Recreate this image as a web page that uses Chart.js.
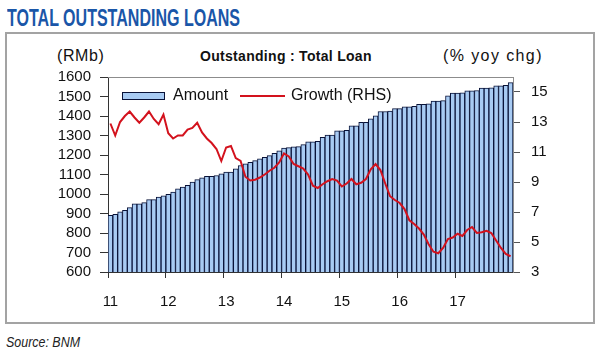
<!DOCTYPE html>
<html>
<head>
<meta charset="utf-8">
<script src="https://cdn.jsdelivr.net/npm/chart.js@4/dist/chart.umd.min.js"></script>
<style>
  html, body { margin: 0; padding: 0; background: #fff; }
  body { width: 600px; height: 360px; position: relative; overflow: hidden; font-family: "Liberation Sans", Arial, sans-serif; }
  #frame { position: absolute; left: 5px; top: 32px; width: 590px; height: 292px; box-sizing: border-box; border: 2px solid #a3a3a3; }
  #title { position: absolute; left: 7px; top: 5px; font-family: "Liberation Sans Narrow", "Liberation Sans", Arial, sans-serif; font-weight: bold; font-size: 23px; color: #1a56a8; white-space: nowrap; transform-origin: 0 0; line-height: 26px; }
  #source { position: absolute; left: 6px; top: 333px; font-family: "Liberation Sans Narrow", "Liberation Sans", Arial, sans-serif; font-style: italic; font-size: 15px; color: #222; white-space: nowrap; transform-origin: 0 0; }
  .lbl { position: absolute; white-space: nowrap; color: #111; line-height: 18px; }
  #wrap { position: absolute; left: 0; top: 0; width: 600px; height: 360px; }
</style>
</head>
<body>
<div id="frame"></div>
<div id="title">TOTAL OUTSTANDING LOANS</div>
<div class="lbl" id="rmb" style="left:57px; top:47px; font-size:16px; letter-spacing:0.6px;">(RMb)</div>
<div class="lbl" id="ctitle" style="left:200px; top:47px; font-size:14px; font-weight:bold; letter-spacing:0.3px;">Outstanding : Total Loan</div>
<div class="lbl" id="yoy" style="left:443px; top:47px; font-size:16px; letter-spacing:1.4px;">(% yoy chg)</div>
<div id="source">Source: BNM</div>
<div id="wrap"><canvas id="c" width="600" height="360"></canvas></div>
<script>
// ---- data ----
const years = ['11', '12', '13', '14', '15', '16', '17'];
const monthsPerYear = ['Jan','Feb','Mar','Apr','May','Jun','Jul','Aug','Sep','Oct','Nov','Dec'];

const amount = [
  891, 896, 908, 916, 930, 950, 950, 956, 971, 971, 984, 990,
  998, 1010, 1027, 1035, 1044, 1061, 1074, 1083, 1090, 1090, 1095, 1104,
  1112, 1112, 1129, 1146, 1155, 1163, 1171, 1180, 1188, 1197, 1209, 1222,
  1236, 1238, 1242, 1243, 1253, 1268, 1268, 1270, 1290, 1302, 1302, 1324,
  1324, 1326, 1350, 1350, 1367, 1367, 1385, 1401, 1423, 1423, 1425, 1438,
  1438, 1447, 1447, 1449, 1460, 1460, 1462, 1477, 1477, 1479, 1503, 1517,
  1517, 1519, 1529, 1529, 1531, 1543, 1543, 1545, 1555, 1555, 1557, 1571
];

const growth = [
  12.9, 12.1, 13.0, 13.4, 13.7, 13.3, 12.95, 13.3, 13.7, 13.2, 12.85, 13.5,
  12.25, 11.9, 12.1, 12.1, 12.5, 12.6, 12.95, 12.3, 11.9, 11.6, 11.2, 10.4,
  11.3, 11.4, 10.6, 10.4, 9.35, 9.1, 9.15, 9.3, 9.5, 9.75, 9.95, 10.3,
  10.9, 10.7, 10.2, 10.05, 9.9, 9.5, 8.75, 8.6, 8.85, 9.05, 9.2, 9.1,
  8.7, 8.9, 9.2, 8.85, 8.95, 9.2, 9.85, 10.2, 9.8, 8.9, 8.05, 7.8,
  7.6, 7.2, 6.45, 6.2, 5.9, 5.5, 4.85, 4.35, 4.25, 4.6, 5.2, 5.3,
  5.55, 5.4, 5.8, 6.0, 5.6, 5.65, 5.75, 5.6, 5.1, 4.6, 4.2, 4.05
];

const leftTicks = [600, 700, 800, 900, 1000, 1100, 1200, 1300, 1400, 1500, 1600];
const rightTicks = [3, 5, 7, 9, 11, 13, 15];
const legendLabels = ['Amount', 'Growth (RHS)'];

// categories: one per month
const categories = [];
years.forEach(y => monthsPerYear.forEach(m => categories.push(m + ' ' + y)));

// ---- fit title/source widths ----
function fitWidth(id, target) {
  const el = document.getElementById(id);
  const w = el.getBoundingClientRect().width;
  if (w > 0) el.style.transform = 'scaleX(' + (target / w) + ')';
}
fitWidth('title', 233);
fitWidth('source', 74);

const FONT = '"Liberation Sans", Arial, sans-serif';
const barFill = '#a8cbf3';
const barEdge = '#081238';
const red = '#d3121d';

const framePlugin = {
  id: 'framePlugin',
  afterDatasetsDraw(chart) {
    const { ctx, chartArea: a } = chart;
    ctx.save();
    // top frame line
    ctx.strokeStyle = '#8c8c8c';
    ctx.lineWidth = 1;
    ctx.beginPath();
    ctx.moveTo(a.left, a.top + 0.5);
    ctx.lineTo(a.right, a.top + 0.5);
    ctx.stroke();
    // legend
    const ly = 96;
    ctx.fillStyle = barFill;
    ctx.fillRect(122.5, 92.5, 42, 7);
    ctx.strokeStyle = barEdge;
    ctx.lineWidth = 1;
    ctx.strokeRect(122.5, 92.5, 42, 7);
    ctx.fillStyle = '#111';
    ctx.font = '16px ' + FONT;
    ctx.textBaseline = 'middle';
    ctx.textAlign = 'left';
    ctx.fillText(legendLabels[0], 173, ly);
    ctx.strokeStyle = red;
    ctx.lineWidth = 2;
    ctx.beginPath();
    ctx.moveTo(240, ly);
    ctx.lineTo(285, ly);
    ctx.stroke();
    ctx.fillText(legendLabels[1], 291, ly);
    ctx.restore();
  }
};

new Chart(document.getElementById('c'), {
  data: {
    labels: categories,
    datasets: [
      {
        type: 'line',
        label: legendLabels[1],
        data: growth,
        yAxisID: 'yR',
        borderColor: red,
        borderWidth: 2,
        pointRadius: 0,
        tension: 0,
        order: 0
      },
      {
        type: 'bar',
        label: legendLabels[0],
        data: amount,
        yAxisID: 'yL',
        backgroundColor: barFill,
        borderColor: barEdge,
        borderWidth: 1,
        barPercentage: 1,
        categoryPercentage: 1,
        order: 1
      }
    ]
  },
  options: {
    responsive: false,
    animation: false,
    events: [],
    layout: { padding: { top: 77, left: 0, right: 0, bottom: 0 } },
    plugins: { legend: { display: false }, tooltip: { enabled: false }, title: { display: false } },
    scales: {
      x: {
        type: 'category',
        offset: true,
        grid: {
          offset: true,
          drawOnChartArea: false,
          tickLength: 6,
          color: (c) => (c.index % 12 === 0 ? '#333' : 'rgba(0,0,0,0)'),
          tickColor: (c) => (c.index % 12 === 0 ? '#333' : 'rgba(0,0,0,0)')
        },
        border: { color: '#333', width: 1 },
        ticks: {
          autoSkip: false,
          maxRotation: 0,
          minRotation: 0,
          padding: 15,
          color: '#111',
          font: { family: FONT, size: 15 },
          callback: (v, i) => (i % 12 === 0 ? years[i / 12] : '')
        },
        afterFit: (s) => { s.height = 88; }
      },
      yL: {
        type: 'linear',
        position: 'left',
        min: leftTicks[0],
        max: leftTicks[leftTicks.length - 1],
        afterBuildTicks: (s) => { s.ticks = leftTicks.map(v => ({ value: v })); },
        grid: { drawOnChartArea: false, tickLength: 8, color: '#333', tickColor: '#333' },
        border: { color: '#333', width: 1 },
        ticks: { autoSkip: false, padding: 9, color: '#111', font: { family: FONT, size: 15 }, callback: (v) => String(v) },
        afterFit: (s) => { s.width = 108; }
      },
      yR: {
        type: 'linear',
        position: 'right',
        min: 3,
        max: 16,
        afterBuildTicks: (s) => { s.ticks = rightTicks.map(v => ({ value: v })); },
        grid: { drawOnChartArea: false, tickLength: 7, color: '#555', tickColor: '#555' },
        border: { color: '#8c8c8c', width: 1 },
        ticks: { autoSkip: false, padding: 11, color: '#111', font: { family: FONT, size: 15 }, callback: (v) => String(v) },
        afterFit: (s) => { s.width = 87; }
      }
    }
  },
  plugins: [framePlugin]
});
</script>
</body>
</html>
